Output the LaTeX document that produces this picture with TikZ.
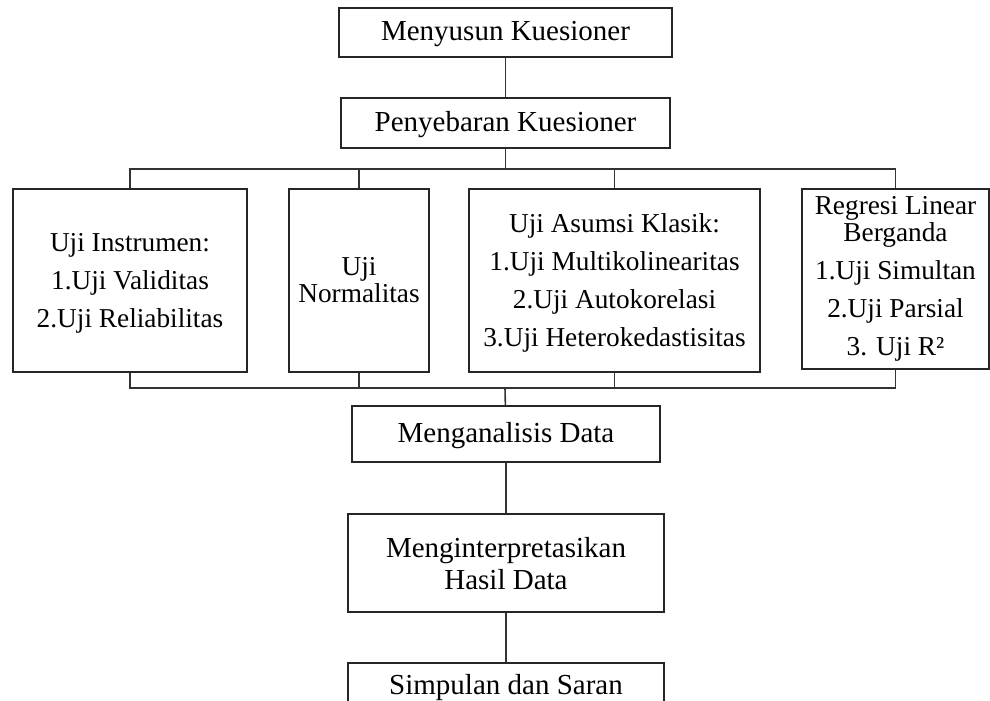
\documentclass[tikz,border=0pt]{standalone}
\usepackage{fontspec}
\setmainfont{Liberation Serif}
\begin{document}
\begin{tikzpicture}[x=1pt,y=-1pt,
  box/.style={draw=black!85,line width=1.5pt,inner sep=0pt,align=center},
  big/.style={font=\fontsize{29}{33}\selectfont,text depth=3pt},
  mid/.style={font=\fontsize{27.3}{38}\selectfont},
  link/.style={draw=black!80,line width=1.6pt}]
\useasboundingbox (0,0) rectangle (990,701);
\clip (0,0) rectangle (990,701);
\node[box,big,minimum width=333pt,minimum height=49pt] (n1) at (505.5,32.5) {Menyusun Kuesioner};
\node[box,big,minimum width=329pt,minimum height=50pt] (n2) at (505.5,123) {Penyebaran Kuesioner};
\node[box,mid,text depth=0pt,minimum width=234pt,minimum height=183pt] (a) at (130,280.5) {Uji Instrumen:\\1.Uji Validitas\\2.Uji Reliabilitas};
\node[box,mid,minimum width=140pt,minimum height=183pt] (b) at (359,280.5) {Uji\\[-11pt]Normalitas};
\node[box,mid,text depth=0pt,minimum width=291pt,minimum height=183pt] (c) at (614.5,280.5) {Uji Asumsi Klasik:\\1.Uji Multikolinearitas\\2.Uji Autokorelasi\\3.Uji Heterokedastisitas};
\node[box,mid,minimum width=187pt,minimum height=180pt] (d) at (895.5,279) {Regresi Linear\\[-11pt]Berganda\\1.Uji Simultan\\2.Uji Parsial\\3. Uji R²};
\node[box,big,minimum width=308pt,minimum height=56pt] (m) at (506,434) {Menganalisis Data};
\node[box,big,text depth=0pt,minimum width=316pt,minimum height=98pt] (h) at (506,563) {Menginterpretasikan\\[-1pt]Hasil Data};
\node[box,big,text depth=9pt,minimum width=316pt,minimum height=52pt] (s) at (506,689) {Simpulan dan Saran};
\coordinate (bt) at (505.5,169);
\coordinate (bb) at (505,388);
\draw[link] (n1) -- (n2);
\draw[link] (n2) -- (bt);
\draw[link] (a.north) |- (bt) -| (d.north);
\draw[link] (b.north) -- (b.north |- bt);
\draw[link] (c.north) -- (c.north |- bt);
\draw[link] (a.south) |- (bb) -| (d.south);
\draw[link] (b.south) -- (b.south |- bb);
\draw[link] (c.south) -- (c.south |- bb);
\draw[link] (bb) -- (m);
\draw[link] (m) -- (h);
\draw[link] (h) -- (s);
\end{tikzpicture}
\end{document}
